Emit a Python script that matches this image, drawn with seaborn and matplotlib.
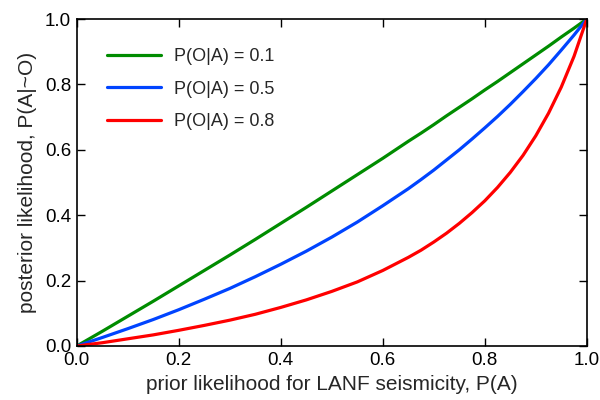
import pandas as pd
import matplotlib
matplotlib.use("Agg")
import matplotlib.pyplot as plt
import seaborn as sns

# values
prior = [0.0, 0.05, 0.1, 0.15, 0.2, 0.25, 0.3, 0.35, 0.4, 0.45, 0.5, 0.55, 0.6, 0.65,
         0.675, 0.7, 0.725, 0.75, 0.775, 0.8, 0.825, 0.85, 0.875, 0.9, 0.925, 0.95, 0.975, 1.0]
post_01 = [0.0, 0.045, 0.091, 0.137, 0.184, 0.231, 0.278, 0.326, 0.375, 0.424, 0.474, 0.524,
           0.574, 0.626, 0.651, 0.677, 0.704, 0.730, 0.756, 0.783, 0.809, 0.836, 0.863,
           0.890, 0.917, 0.945, 0.972, 1.0]
post_05 = [0.0, 0.026, 0.053, 0.081, 0.111, 0.143, 0.176, 0.212, 0.250, 0.290, 0.333, 0.379,
           0.429, 0.481, 0.509, 0.538, 0.569, 0.600, 0.633, 0.667, 0.702, 0.739, 0.778,
           0.818, 0.860, 0.905, 0.951, 1.0]
post_08 = [0.0, 0.010, 0.022, 0.034, 0.048, 0.063, 0.079, 0.097, 0.118, 0.141, 0.167, 0.196,
           0.231, 0.271, 0.293, 0.318, 0.345, 0.375, 0.408, 0.444, 0.485, 0.531, 0.583,
           0.643, 0.712, 0.792, 0.886, 1.0]
labels = ["P(O|A) = 0.1", "P(O|A) = 0.5", "P(O|A) = 0.8"]
colors = ["#008c00", "#0044ff", "#ff0000"]

frames = []
for lab, vals in zip(labels, [post_01, post_05, post_08]):
    frames.append(pd.DataFrame({"prior": prior, "posterior": vals, "case": lab}))
df = pd.concat(frames, ignore_index=True)

sns.set_style("ticks")
plt.rcParams['font.family'] = ['Liberation Sans', 'DejaVu Sans']
plt.rcParams['xtick.direction'] = 'in'
plt.rcParams['ytick.direction'] = 'in'

fig = plt.figure(figsize=(6, 4), dpi=100)
ax = fig.add_axes([0.128, 0.135, 0.85, 0.8175])

sns.lineplot(data=df, x="prior", y="posterior", hue="case", palette=colors,
             hue_order=labels, linewidth=2.3, ax=ax)

ax.set_xlim(0, 1)
ax.set_ylim(0, 1)
ax.set_xticks([0, 0.2, 0.4, 0.6, 0.8, 1.0])
ax.set_yticks([0, 0.2, 0.4, 0.6, 0.8, 1.0])
ax.xaxis.set_major_formatter(matplotlib.ticker.FormatStrFormatter('%.1f'))
ax.yaxis.set_major_formatter(matplotlib.ticker.FormatStrFormatter('%.1f'))
ax.tick_params(top=True, right=True, length=6, width=1, labelsize=13.5, pad=4, colors='black')
for s in ax.spines.values():
    s.set_linewidth(1.2)
    s.set_color('black')

ax.set_xlabel("prior likelihood for LANF seismicity, P(A)", fontsize=15, labelpad=5)
ax.set_ylabel("posterior likelihood, P(A|~O)", fontsize=15, labelpad=6)

leg = ax.legend(loc="upper left", frameon=False, fontsize=13, handlelength=3.0,
                handletextpad=0.7, labelspacing=0.85, borderaxespad=0.0,
                bbox_to_anchor=(0.045, 0.932))
for line in leg.get_lines():
    line.set_linewidth(2.3)

fig.savefig("out.png", dpi=100)
